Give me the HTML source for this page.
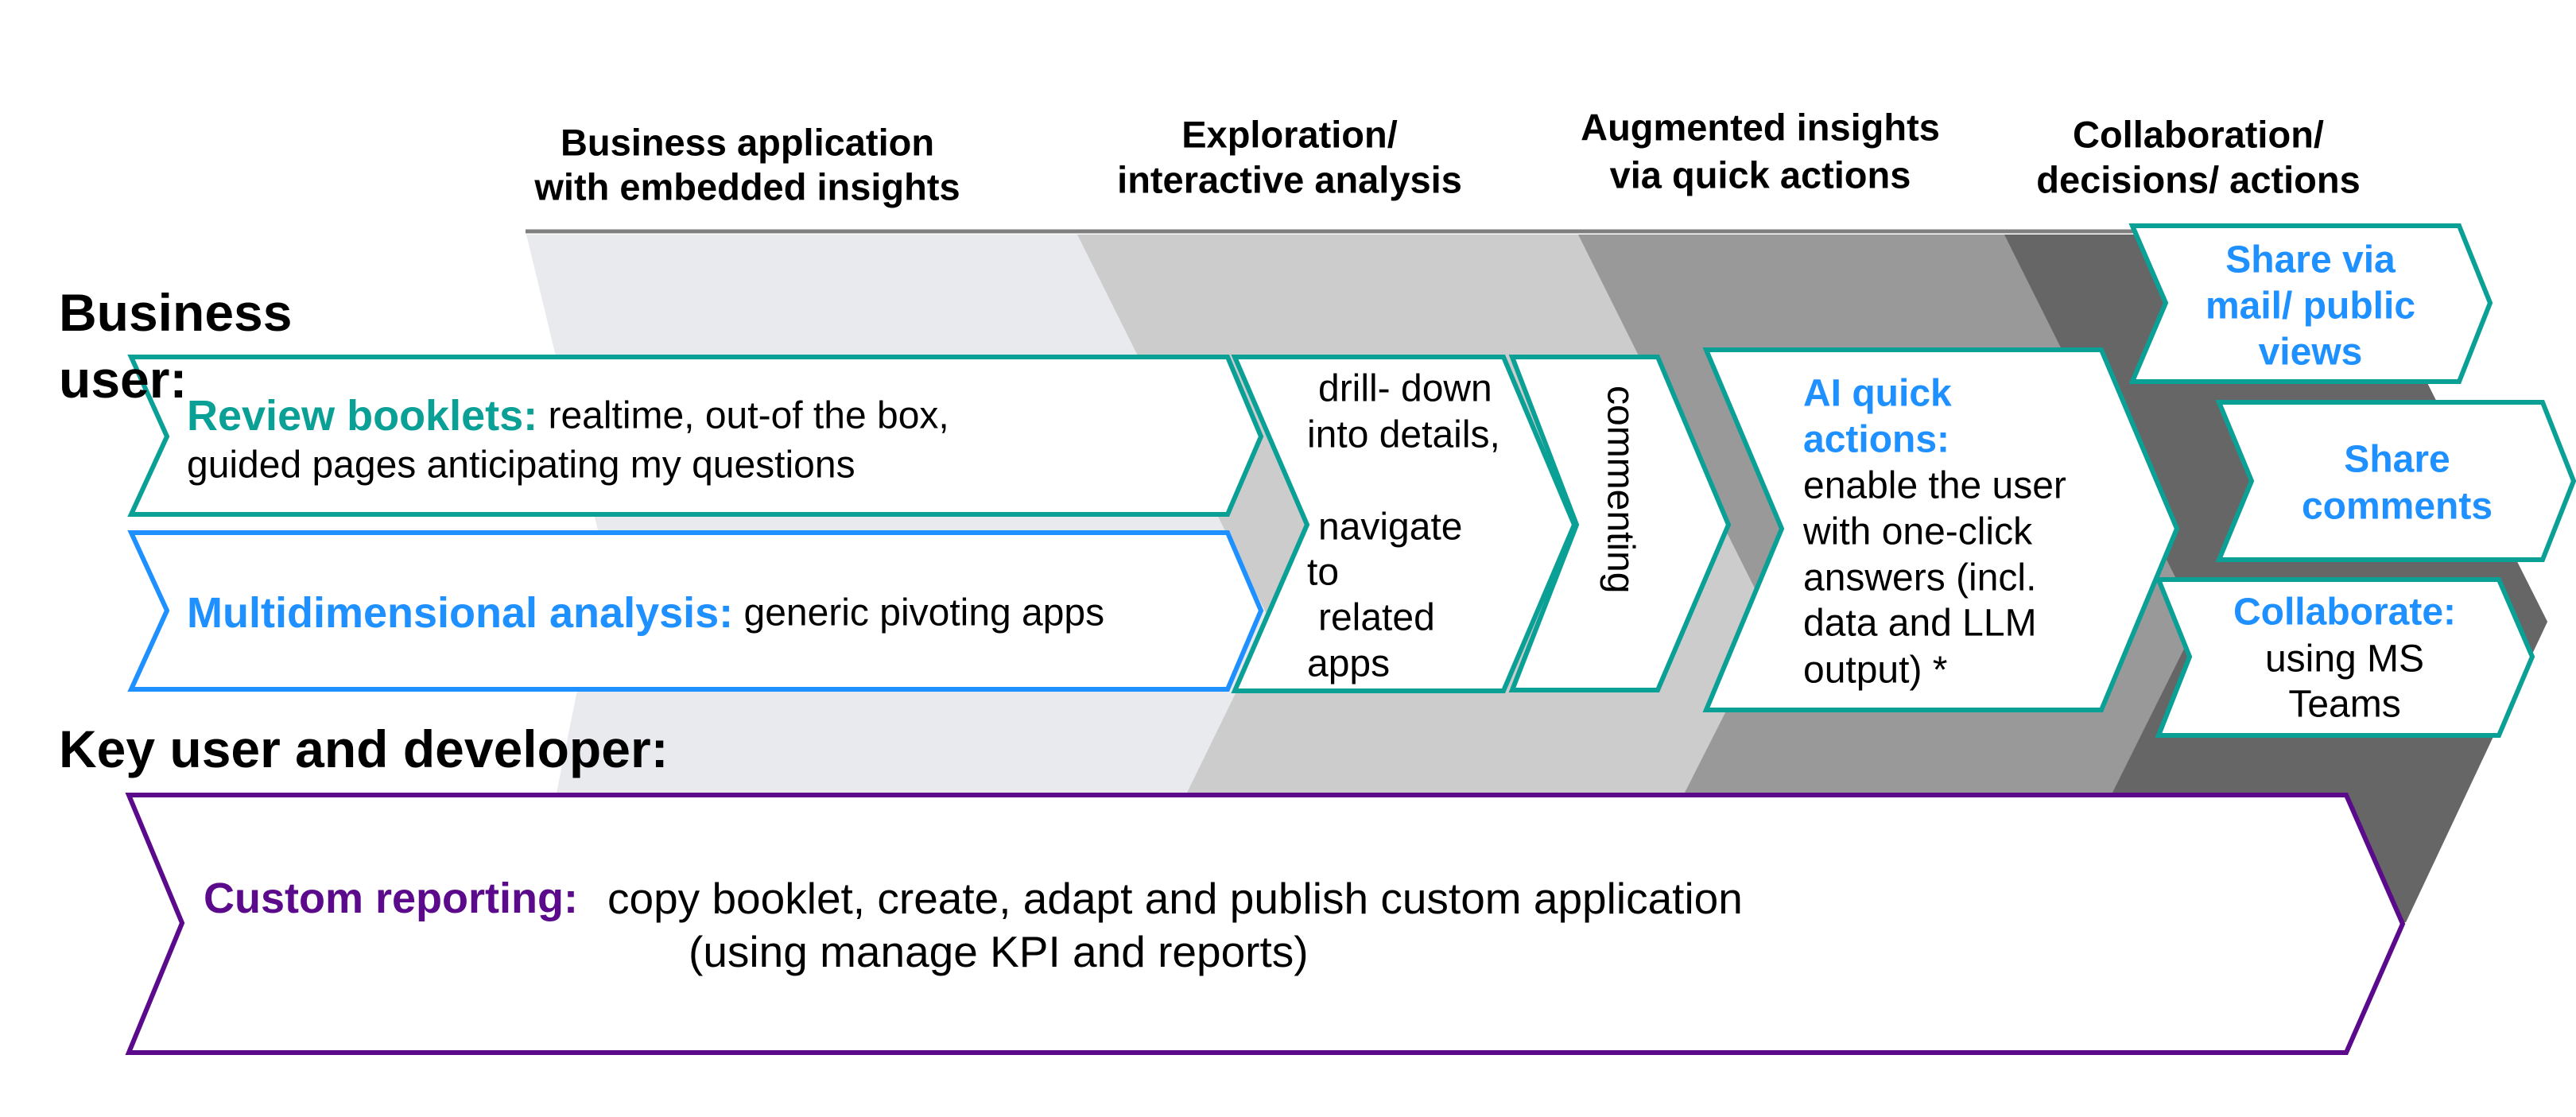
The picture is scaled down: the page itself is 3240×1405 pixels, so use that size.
<!DOCTYPE html>
<html><head><meta charset="utf-8"><style>
html,body{margin:0;padding:0;background:#fff;}
svg{display:block;}
text{font-family:"Liberation Sans",Arial,sans-serif;}
</style></head><body>
<svg width="3240" height="1405" viewBox="0 0 3240 1405" xmlns="http://www.w3.org/2000/svg">
<rect width="3240" height="1405" fill="#fff"/>
<!-- bands -->
<polygon points="662,295 2959,295 3204,782 3026,1160 660,1160 700,997 760,700" fill="#e9eaed"/>
<polygon points="1355,295 2959,295 3204,782 3026,1160 1415,1160 1493,997 1598,782" fill="#cccccc"/>
<polygon points="1985,295 2959,295 3204,782 3026,1160 2040,1160 2119,997 2228,782" fill="#999999"/>
<polygon points="2521,295 2959,295 3204,782 3026,1160 2580,1160 2657,997 2764,782" fill="#666666"/>
<line x1="661" y1="291" x2="2686" y2="291" stroke="#7f7f7f" stroke-width="5"/>

<!-- headers -->
<g font-size="47" font-weight="bold" fill="#000" text-anchor="middle" dominant-baseline="central">
<text x="940" y="179">Business application</text>
<text x="940" y="235">with embedded insights</text>
<text x="1622" y="169">Exploration/</text>
<text x="1622" y="226">interactive analysis</text>
<text x="2214" y="160">Augmented insights</text>
<text x="2214" y="220">via quick actions</text>
<text x="2765" y="169">Collaboration/</text>
<text x="2765" y="226">decisions/ actions</text>
</g>

<!-- boxes -->
<g fill="#fff" stroke-width="6" stroke-linejoin="miter">
<polygon points="165,449 1544,449 1586,549 1544,647 165,647 210,549" stroke="#0aa096"/>
<polygon points="165,670 1544,670 1586,768 1544,867 165,867 210,768" stroke="#1e90ff"/>
<polygon points="1553,449 1891,449 1980,660 1891,869 1553,869 1644,660" stroke="#0aa096"/>
<polygon points="1902,449 2085,449 2174,660 2085,868 1902,868 1983,660" stroke="#0aa096"/>
<polygon points="2146,440 2643,440 2738,665 2643,893 2146,893 2241,665" stroke="#0aa096"/>
<polygon points="2682,284 3093,284 3132,381 3093,480 2682,480 2724,381" stroke="#0aa096"/>
<polygon points="2791,506 3198,506 3237,605 3198,704 2791,704 2832,605" stroke="#0aa096"/>
<polygon points="2715,729 3143,729 3185,826 3143,925 2715,925 2754,826" stroke="#0aa096"/>
<polygon points="162,1000 2951,1000 3022,1162 2951,1324 162,1324 229,1161" stroke="#5a0a8a"/>
</g>

<g dominant-baseline="central" font-size="48" fill="#000">
<text x="235" y="523"><tspan font-weight="bold" font-size="54" fill="#0aa096">Review booklets:</tspan> realtime, out-of the box,</text>
<text x="235" y="585">guided pages anticipating my questions</text>
<text x="235" y="771"><tspan font-weight="bold" font-size="54" fill="#1e90ff">Multidimensional analysis:</tspan> generic pivoting apps</text>

<text x="1658" y="489">drill- down</text>
<text x="1644" y="547">into details,</text>
<text x="1658" y="663">navigate</text>
<text x="1644" y="720">to</text>
<text x="1658" y="777">related</text>
<text x="1644" y="835">apps</text>

<text x="2038" y="485" transform="rotate(90 2038 485)">commenting</text>

<text x="2268" y="495" font-weight="bold" fill="#1e90ff">AI quick</text>
<text x="2268" y="553" font-weight="bold" fill="#1e90ff">actions:</text>
<text x="2268" y="611">enable the user</text>
<text x="2268" y="669">with one-click</text>
<text x="2268" y="727">answers (incl.</text>
<text x="2268" y="784">data and LLM</text>
<text x="2268" y="843">output) *</text>

<g text-anchor="middle">
<text x="2906" y="327" font-weight="bold" fill="#1e90ff">Share via</text>
<text x="2906" y="385" font-weight="bold" fill="#1e90ff">mail/ public</text>
<text x="2906" y="443" font-weight="bold" fill="#1e90ff">views</text>
<text x="3015" y="578" font-weight="bold" fill="#1e90ff">Share</text>
<text x="3015" y="637" font-weight="bold" fill="#1e90ff">comments</text>
<text x="2949" y="770" font-weight="bold" fill="#1e90ff">Collaborate:</text>
<text x="2949" y="829">using MS</text>
<text x="2949" y="886">Teams</text>
</g>

<text x="256" y="1130"><tspan font-weight="bold" font-size="54" fill="#5a0a8a">Custom reporting:</tspan><tspan x="764" font-size="55">copy booklet, create, adapt and publish custom application</tspan></text>
<text x="866" y="1197" font-size="55">(using manage KPI and reports)</text>
</g>

<g font-weight="bold" font-size="66" fill="#000" dominant-baseline="central">
<text x="74" y="393">Business</text>
<text x="74" y="477">user:</text>
<text x="74" y="942">Key user and developer:</text>
</g>
</svg>
</body></html>
